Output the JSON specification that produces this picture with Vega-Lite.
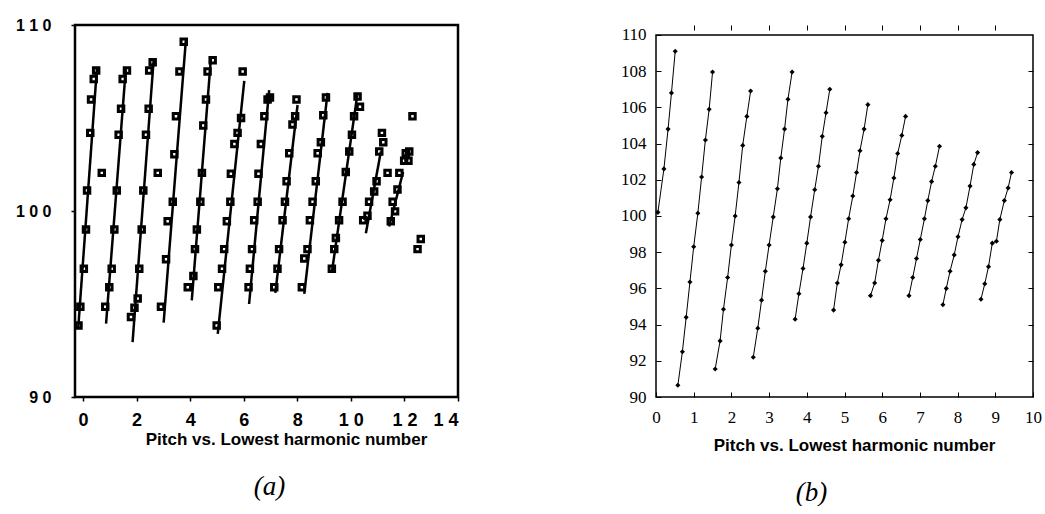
{
  "$schema": "https://vega.github.io/schema/vega-lite/v6.json",
  "padding": {"left": 14, "top": 15, "right": 2, "bottom": 0},
  "spacing": 160,
  "background": "white",
  "config": {"view": {"stroke": null}},
  "datasets": {
    "a_points": [
      {"h": 0.49, "p": 107.55}, {"h": 0.40, "p": 107.1}, {"h": 0.30, "p": 106.0}, {"h": 0.27, "p": 104.2}, {"h": 0.15, "p": 101.1}, {"h": 0.11, "p": 99.0}, {"h": 0.03, "p": 96.9}, {"h": -0.10, "p": 94.85}, {"h": -0.17, "p": 93.85},
      {"h": 0.70, "p": 102.05}, {"h": 2.79, "p": 102.05},
      {"h": 1.64, "p": 107.55}, {"h": 1.48, "p": 107.1}, {"h": 1.42, "p": 105.5}, {"h": 1.33, "p": 104.1}, {"h": 1.26, "p": 101.1}, {"h": 1.17, "p": 99.0}, {"h": 1.07, "p": 96.9}, {"h": 0.98, "p": 95.9}, {"h": 0.83, "p": 94.85},
      {"h": 2.60, "p": 108.0}, {"h": 2.47, "p": 107.55}, {"h": 2.45, "p": 105.5}, {"h": 2.35, "p": 104.1}, {"h": 2.25, "p": 101.1}, {"h": 2.19, "p": 99.0}, {"h": 2.10, "p": 96.9}, {"h": 2.04, "p": 95.3}, {"h": 1.92, "p": 94.8}, {"h": 1.79, "p": 94.3},
      {"h": 3.76, "p": 109.1}, {"h": 3.60, "p": 107.5}, {"h": 3.47, "p": 105.1}, {"h": 3.41, "p": 103.05}, {"h": 3.35, "p": 100.5}, {"h": 3.16, "p": 99.45}, {"h": 3.10, "p": 97.4}, {"h": 2.91, "p": 94.85},
      {"h": 4.84, "p": 108.1}, {"h": 4.65, "p": 107.5}, {"h": 4.59, "p": 106.0}, {"h": 4.49, "p": 104.6}, {"h": 4.44, "p": 102.05}, {"h": 4.38, "p": 100.5}, {"h": 4.25, "p": 99.0}, {"h": 4.18, "p": 97.95}, {"h": 4.12, "p": 96.5}, {"h": 3.91, "p": 95.9},
      {"h": 5.96, "p": 107.5}, {"h": 5.90, "p": 105.0}, {"h": 5.77, "p": 104.2}, {"h": 5.65, "p": 103.6}, {"h": 5.52, "p": 102.0}, {"h": 5.50, "p": 100.5}, {"h": 5.37, "p": 99.45}, {"h": 5.27, "p": 97.95}, {"h": 5.19, "p": 96.9}, {"h": 5.05, "p": 95.9}, {"h": 4.99, "p": 93.85},
      {"h": 6.89, "p": 106.0}, {"h": 6.98, "p": 106.1}, {"h": 6.77, "p": 105.1}, {"h": 6.64, "p": 103.6}, {"h": 6.55, "p": 102.0}, {"h": 6.52, "p": 100.5}, {"h": 6.39, "p": 99.5}, {"h": 6.31, "p": 97.95}, {"h": 6.23, "p": 96.9}, {"h": 6.18, "p": 95.9},
      {"h": 7.97, "p": 106.0}, {"h": 7.92, "p": 105.1}, {"h": 7.82, "p": 104.65}, {"h": 7.70, "p": 103.1}, {"h": 7.60, "p": 101.6}, {"h": 7.54, "p": 100.5}, {"h": 7.45, "p": 99.5}, {"h": 7.32, "p": 97.95}, {"h": 7.26, "p": 96.9}, {"h": 7.14, "p": 95.9},
      {"h": 9.07, "p": 106.1}, {"h": 8.97, "p": 105.15}, {"h": 8.88, "p": 103.7}, {"h": 8.76, "p": 103.1}, {"h": 8.69, "p": 101.6}, {"h": 8.57, "p": 100.5}, {"h": 8.47, "p": 99.5}, {"h": 8.38, "p": 97.95}, {"h": 8.26, "p": 97.45}, {"h": 8.17, "p": 95.9},
      {"h": 10.25, "p": 106.15}, {"h": 10.34, "p": 105.6}, {"h": 10.12, "p": 105.1}, {"h": 10.04, "p": 104.1}, {"h": 9.94, "p": 103.2}, {"h": 9.81, "p": 102.1}, {"h": 9.69, "p": 100.5}, {"h": 9.56, "p": 99.5}, {"h": 9.44, "p": 98.55}, {"h": 9.38, "p": 97.95}, {"h": 9.29, "p": 96.9},
      {"h": 11.16, "p": 104.2}, {"h": 11.21, "p": 103.7}, {"h": 11.06, "p": 103.2}, {"h": 10.96, "p": 101.6}, {"h": 11.37, "p": 102.05}, {"h": 10.87, "p": 101.05}, {"h": 10.68, "p": 100.5}, {"h": 10.62, "p": 99.75}, {"h": 10.46, "p": 99.5},
      {"h": 12.30, "p": 105.1}, {"h": 12.18, "p": 103.2}, {"h": 12.05, "p": 103.1}, {"h": 12.15, "p": 102.7}, {"h": 11.99, "p": 102.7}, {"h": 11.81, "p": 102.05}, {"h": 11.74, "p": 101.15}, {"h": 11.56, "p": 100.5}, {"h": 11.65, "p": 99.98}, {"h": 11.49, "p": 99.45},
      {"h": 12.49, "p": 97.95}, {"h": 12.61, "p": 98.5}
    ],
    "a_lines": [
      {"seg": 1, "h": -0.18, "p": 93.7}, {"seg": 1, "h": 0.52, "p": 107.7},
      {"seg": 2, "h": 0.86, "p": 93.95}, {"seg": 2, "h": 1.60, "p": 107.7},
      {"seg": 3, "h": 1.85, "p": 92.95}, {"seg": 3, "h": 2.64, "p": 108.2},
      {"seg": 4, "h": 3.01, "p": 94.0}, {"seg": 4, "h": 3.84, "p": 109.2},
      {"seg": 5, "h": 4.06, "p": 95.2}, {"seg": 5, "h": 4.78, "p": 108.3},
      {"seg": 6, "h": 5.03, "p": 93.4}, {"seg": 6, "h": 6.02, "p": 107.0},
      {"seg": 7, "h": 6.20, "p": 95.0}, {"seg": 7, "h": 6.95, "p": 106.5},
      {"seg": 8, "h": 7.18, "p": 95.6}, {"seg": 8, "h": 8.01, "p": 105.7},
      {"seg": 9, "h": 8.26, "p": 95.55}, {"seg": 9, "h": 9.13, "p": 106.35},
      {"seg": 10, "h": 9.30, "p": 96.8}, {"seg": 10, "h": 10.25, "p": 106.35},
      {"seg": 11, "h": 10.56, "p": 98.8}, {"seg": 11, "h": 11.12, "p": 103.2},
      {"seg": 12, "h": 11.43, "p": 99.17}, {"seg": 12, "h": 11.95, "p": 102.1}
    ],
    "b_points": [
      {"seg": 1, "h": 0.05, "p": 100.2}, {"seg": 1, "h": 0.21, "p": 102.6}, {"seg": 1, "h": 0.32, "p": 104.8}, {"seg": 1, "h": 0.41, "p": 106.8}, {"seg": 1, "h": 0.51, "p": 109.1},
      {"seg": 2, "h": 0.58, "p": 90.65}, {"seg": 2, "h": 0.70, "p": 92.5}, {"seg": 2, "h": 0.80, "p": 94.4}, {"seg": 2, "h": 0.90, "p": 96.35}, {"seg": 2, "h": 1.00, "p": 98.3}, {"seg": 2, "h": 1.11, "p": 100.15}, {"seg": 2, "h": 1.21, "p": 102.15}, {"seg": 2, "h": 1.31, "p": 104.2}, {"seg": 2, "h": 1.41, "p": 105.9}, {"seg": 2, "h": 1.50, "p": 107.95},
      {"seg": 3, "h": 1.57, "p": 91.55}, {"seg": 3, "h": 1.70, "p": 93.1}, {"seg": 3, "h": 1.79, "p": 94.85}, {"seg": 3, "h": 1.90, "p": 96.6}, {"seg": 3, "h": 2.00, "p": 98.4}, {"seg": 3, "h": 2.10, "p": 100.0}, {"seg": 3, "h": 2.20, "p": 101.85}, {"seg": 3, "h": 2.30, "p": 103.9}, {"seg": 3, "h": 2.41, "p": 105.5}, {"seg": 3, "h": 2.51, "p": 106.9},
      {"seg": 4, "h": 2.58, "p": 92.2}, {"seg": 4, "h": 2.70, "p": 93.8}, {"seg": 4, "h": 2.80, "p": 95.35}, {"seg": 4, "h": 2.90, "p": 96.95}, {"seg": 4, "h": 3.00, "p": 98.4}, {"seg": 4, "h": 3.11, "p": 99.95}, {"seg": 4, "h": 3.22, "p": 101.5}, {"seg": 4, "h": 3.31, "p": 103.2}, {"seg": 4, "h": 3.41, "p": 104.8}, {"seg": 4, "h": 3.50, "p": 106.45}, {"seg": 4, "h": 3.61, "p": 107.95},
      {"seg": 5, "h": 3.69, "p": 94.3}, {"seg": 5, "h": 3.79, "p": 95.7}, {"seg": 5, "h": 3.90, "p": 97.1}, {"seg": 5, "h": 4.00, "p": 98.5}, {"seg": 5, "h": 4.10, "p": 99.95}, {"seg": 5, "h": 4.21, "p": 101.45}, {"seg": 5, "h": 4.31, "p": 102.75}, {"seg": 5, "h": 4.41, "p": 104.4}, {"seg": 5, "h": 4.51, "p": 105.7}, {"seg": 5, "h": 4.61, "p": 107.0},
      {"seg": 6, "h": 4.71, "p": 94.8}, {"seg": 6, "h": 4.81, "p": 96.3}, {"seg": 6, "h": 4.91, "p": 97.3}, {"seg": 6, "h": 5.01, "p": 98.55}, {"seg": 6, "h": 5.11, "p": 99.85}, {"seg": 6, "h": 5.22, "p": 101.1}, {"seg": 6, "h": 5.32, "p": 102.4}, {"seg": 6, "h": 5.41, "p": 103.6}, {"seg": 6, "h": 5.52, "p": 104.8}, {"seg": 6, "h": 5.62, "p": 106.15},
      {"seg": 7, "h": 5.69, "p": 95.6}, {"seg": 7, "h": 5.80, "p": 96.3}, {"seg": 7, "h": 5.90, "p": 97.55}, {"seg": 7, "h": 6.00, "p": 98.65}, {"seg": 7, "h": 6.10, "p": 99.85}, {"seg": 7, "h": 6.21, "p": 100.9}, {"seg": 7, "h": 6.31, "p": 102.1}, {"seg": 7, "h": 6.41, "p": 103.45}, {"seg": 7, "h": 6.52, "p": 104.45}, {"seg": 7, "h": 6.62, "p": 105.5},
      {"seg": 8, "h": 6.71, "p": 95.6}, {"seg": 8, "h": 6.81, "p": 96.6}, {"seg": 8, "h": 6.91, "p": 97.65}, {"seg": 8, "h": 7.01, "p": 98.7}, {"seg": 8, "h": 7.12, "p": 99.85}, {"seg": 8, "h": 7.21, "p": 100.85}, {"seg": 8, "h": 7.31, "p": 101.9}, {"seg": 8, "h": 7.41, "p": 102.75}, {"seg": 8, "h": 7.52, "p": 103.85},
      {"seg": 9, "h": 7.61, "p": 95.1}, {"seg": 9, "h": 7.70, "p": 96.0}, {"seg": 9, "h": 7.80, "p": 96.95}, {"seg": 9, "h": 7.91, "p": 97.85}, {"seg": 9, "h": 8.01, "p": 98.85}, {"seg": 9, "h": 8.12, "p": 99.8}, {"seg": 9, "h": 8.22, "p": 100.45}, {"seg": 9, "h": 8.33, "p": 101.65}, {"seg": 9, "h": 8.43, "p": 102.85}, {"seg": 9, "h": 8.53, "p": 103.5},
      {"seg": 10, "h": 8.62, "p": 95.4}, {"seg": 10, "h": 8.72, "p": 96.25}, {"seg": 10, "h": 8.82, "p": 97.2}, {"seg": 10, "h": 8.92, "p": 98.5}, {"seg": 10, "h": 9.03, "p": 98.6}, {"seg": 10, "h": 9.12, "p": 99.8}, {"seg": 10, "h": 9.24, "p": 100.85}, {"seg": 10, "h": 9.34, "p": 101.55}, {"seg": 10, "h": 9.43, "p": 102.4}
    ],
    "b_frame": [{"x0": 0, "x1": 10, "y0": 90, "y1": 110}]
  },
  "hconcat": [
    {
      "width": 383,
      "height": 372,
      "view": {"stroke": "black", "strokeWidth": 2.5},
      "title": {"text": "(a)", "orient": "bottom", "anchor": "middle", "dx": 3, "offset": 27, "font": "Liberation Serif", "fontStyle": "italic", "fontWeight": "normal", "fontSize": 27, "color": "black"},
      "layer": [
        {
          "data": {"name": "a_lines"},
          "mark": {"type": "line", "color": "black", "strokeWidth": 2.5},
          "encoding": {
            "x": {"field": "h", "type": "quantitative", "scale": {"domain": [-0.3, 14], "nice": false, "zero": false},
              "axis": {"title": "Pitch vs. Lowest harmonic number", "values": [0, 2, 4, 6, 8, 10, 12, 14], "labelExpr": "datum.value >= 10 ? '1 ' + (datum.value - 10) : datum.label", "labelFont": "Liberation Sans", "labelFontWeight": "bold", "labelFontSize": 18, "labelColor": "black", "labelPadding": 10, "tickSize": 4, "tickColor": "black", "tickWidth": 1.5, "domain": false, "grid": false, "titleFont": "Liberation Sans", "titleFontWeight": "bold", "titleFontSize": 17, "titleColor": "black", "titleX": 211, "titlePadding": 2}},
            "y": {"field": "p", "type": "quantitative", "scale": {"domain": [90, 110], "nice": false, "zero": false},
              "axis": {"title": null, "values": [90, 100, 110], "labelExpr": "datum.value == 110 ? '1 1 0' : datum.value == 100 ? '1 0 0' : '9 0'", "labelFont": "Liberation Sans", "labelFontWeight": "bold", "labelFontSize": 16, "labelColor": "black", "labelPadding": 20, "tickSize": 4, "tickColor": "black", "tickWidth": 1.5, "domain": false, "grid": false}},
            "detail": {"field": "seg", "type": "nominal"}
          }
        },
        {
          "data": {"name": "a_points"},
          "mark": {"type": "point", "shape": "square", "filled": false, "color": "black", "strokeWidth": 3, "size": 30, "opacity": 1},
          "encoding": {
            "x": {"field": "h", "type": "quantitative"},
            "y": {"field": "p", "type": "quantitative"}
          }
        }
      ]
    },
    {
      "width": 377,
      "height": 372,
      "title": {"text": "(b)", "orient": "bottom", "anchor": "middle", "dx": -33, "offset": 27, "font": "Liberation Serif", "fontStyle": "italic", "fontWeight": "normal", "fontSize": 27, "color": "black"},
      "resolve": {"axis": {"x": "independent", "y": "independent"}},
      "layer": [
        {
          "data": {"name": "b_frame"},
          "mark": {"type": "rect", "fill": "white", "fillOpacity": 0, "stroke": "black", "strokeWidth": 1.5},
          "encoding": {
            "x": {"field": "x0", "type": "quantitative", "scale": {"domain": [0, 10], "nice": false, "zero": false},
              "axis": {"orient": "bottom", "title": "Pitch vs. Lowest harmonic number", "values": [0, 1, 2, 3, 4, 5, 6, 7, 8, 9, 10], "labelFont": "Liberation Serif", "labelFontSize": 17, "labelColor": "black", "labelPadding": 17, "tickSize": -5, "tickColor": "black", "domain": false, "grid": false, "labelFlush": false, "titleFont": "Liberation Sans", "titleFontWeight": "bold", "titleFontSize": 17, "titleColor": "black", "titleX": 198, "titlePadding": 12}},
            "x2": {"field": "x1"},
            "y": {"field": "y0", "type": "quantitative", "scale": {"domain": [90, 110.55], "nice": false, "zero": false},
              "axis": {"orient": "left", "title": null, "values": [90, 92, 94, 96, 98, 100, 102, 104, 106, 108, 110], "labelFont": "Liberation Serif", "labelFontSize": 17, "labelColor": "black", "labelPadding": 15, "tickSize": -5, "tickColor": "black", "domain": false, "grid": false}},
            "y2": {"field": "y1"}
          }
        },
        {
          "data": {"name": "b_points"},
          "mark": {"type": "line", "color": "black", "strokeWidth": 1},
          "encoding": {
            "x": {"field": "h", "type": "quantitative", "axis": {"orient": "top", "title": null, "values": [1, 2, 3, 4, 5, 6, 7, 8, 9], "labels": false, "tickSize": -5, "tickColor": "black", "domain": false, "grid": false}},
            "y": {"field": "p", "type": "quantitative", "axis": {"orient": "right", "title": null, "values": [92, 94, 96, 98, 100, 102, 104, 106, 108], "labels": false, "tickSize": -5, "tickColor": "black", "domain": false, "grid": false}},
            "detail": {"field": "seg", "type": "nominal"}
          }
        },
        {
          "data": {"name": "b_points"},
          "mark": {"type": "point", "shape": "diamond", "filled": true, "color": "black", "size": 26, "opacity": 1},
          "encoding": {
            "x": {"field": "h", "type": "quantitative", "axis": null},
            "y": {"field": "p", "type": "quantitative", "axis": null}
          }
        }
      ]
    }
  ]
}
